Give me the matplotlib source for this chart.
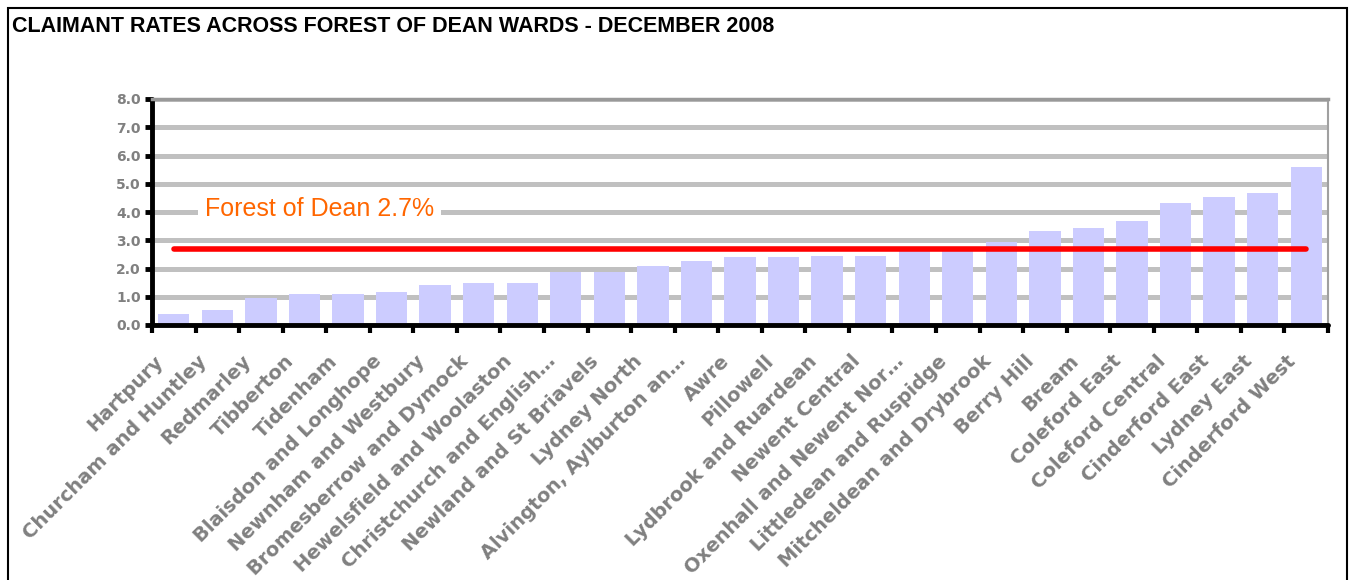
import numpy as np
import matplotlib.pyplot as plt
import matplotlib.transforms as mtransforms
from matplotlib.patches import Rectangle

# ward claimant rates, December 2008 (%)
wards = ["Hartpury", "Churcham and Huntley", "Redmarley", "Tibberton", "Tidenham",
         "Blaisdon and Longhope", "Newnham and Westbury", "Bromesberrow and Dymock",
         "Hewelsfield and Woolaston", "Christchurch and English\u2026",
         "Newland and St Briavels", "Lydney North", "Alvington, Aylburton an\u2026",
         "Awre", "Pillowell", "Lydbrook and Ruardean", "Newent Central",
         "Oxenhall and Newent Nor\u2026", "Littledean and Ruspidge",
         "Mitcheldean and Drybrook", "Berry Hill", "Bream", "Coleford East",
         "Coleford Central", "Cinderford East", "Lydney East", "Cinderford West"]
rates = [0.4, 0.54, 0.97, 1.11, 1.11, 1.18, 1.4, 1.47, 1.47, 1.89, 1.89, 2.1, 2.25,
         2.39, 2.39, 2.46, 2.46, 2.62, 2.65, 2.95, 3.31, 3.45, 3.67, 4.31, 4.52,
         4.66, 5.58]
district_avg = 2.7
yticks = np.arange(0, 9, 1)

fig = plt.figure(figsize=(13.53, 5.8), dpi=100)
ax = fig.add_axes([152/1353, 1-325/580, (1328-152)/1353, (325-99)/580])

x = np.arange(len(wards))
ax.bar(x, rates, width=0.72, color="#CCCCFF", zorder=2)

# district average line
ax.plot([x[0], x[-1]], [district_avg, district_avg], color="#FF0000", lw=4,
        solid_capstyle="round", zorder=3)
ax.text(0.72, 4.12, f"Forest of Dean {district_avg}%", color="#FF6600",
        fontsize=18, family="Liberation Sans", va="center", ha="left", zorder=4,
        bbox=dict(facecolor="white", edgecolor="none", pad=5))

ax.set_xlim(-0.5, len(wards) - 0.5)
ax.set_ylim(0, 8)
ax.set_yticks(yticks)
ax.set_yticklabels([f"{v:.1f}" for v in yticks])
ax.grid(axis="y", color="#C0C0C0", lw=3.6, zorder=0)
ax.set_axisbelow(True)

# ward names, slanted under each bar (placed by hand so they can sit left of the tick)
ax.set_xticks(x)
ax.set_xticklabels([])
lab_trans = ax.get_xaxis_transform() + mtransforms.ScaledTranslation(
    -0.2, -0.265, fig.dpi_scale_trans)
for xi, name in zip(x, wards):
    ax.text(xi, 0, name, transform=lab_trans, rotation=45, ha="right", va="top",
            rotation_mode="anchor", fontsize=14, fontweight="bold", color="#808080",
            clip_on=False)
ax.set_xticks(np.arange(-0.5, len(wards)), minor=True)
ax.tick_params(axis="x", which="major", length=0)
ax.tick_params(axis="x", which="minor", length=6, width=3, color="black")
ax.tick_params(axis="y", length=5, width=3.5, color="black", pad=3,
               labelsize=10, labelcolor="#808080")
for lab in ax.get_yticklabels():
    lab.set_fontweight("bold")

for side in ["left", "bottom"]:
    ax.spines[side].set_linewidth(3.5)
    ax.spines[side].set_color("black")
    ax.spines[side].set_capstyle("round")
ax.spines["right"].set_color("#A0A0A0")
ax.spines["right"].set_linewidth(1.5)
ax.spines["top"].set_color("#999999")
ax.spines["top"].set_linewidth(2.5)

fig.text(12/1353, 1-26/580, "CLAIMANT RATES ACROSS FOREST OF DEAN WARDS - DECEMBER 2008",
         fontsize=15.5, fontweight="bold", family="Liberation Sans",
         va="center", ha="left")

# chart frame
fig.patches.append(Rectangle((8/1353, -0.1), (1347-8)/1353, 1.1 - 8/580,
                             transform=fig.transFigure, fill=False, edgecolor="black",
                             lw=1.5))

fig.savefig("out.png", dpi=100)
